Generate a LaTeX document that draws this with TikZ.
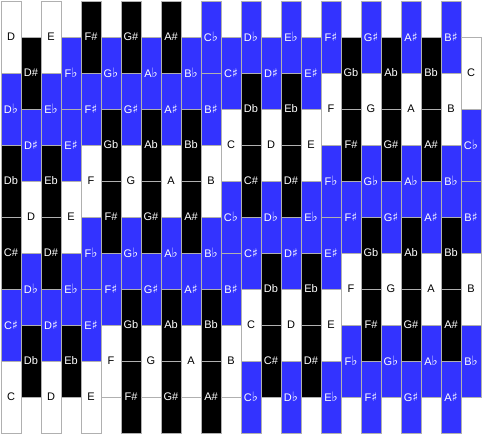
\documentclass[tikz,border=0pt]{standalone}
\usepackage{fontspec}
\setmainfont{Liberation Sans}
\newfontfamily\symfont{DejaVu Sans}
\usepackage{xcolor}
\definecolor{keyblue}{RGB}{51,51,255}
\definecolor{keyline}{RGB}{176,176,176}
\newcommand\flt{{\symfont\fontsize{13}{13}\selectfont ♭}}
\newcommand\shp{{\symfont\fontsize{12}{12}\selectfont ♯}}

\begin{document}
\begin{tikzpicture}[
x=1pt, y=-1pt,
every node/.style = {shape=rectangle, draw=keyline, line width=1pt, inner sep=0pt,
  minimum width=20pt, minimum height=72pt, anchor=north west,
  font=\fontsize{11}{12}\selectfont},
natkey/.style = {fill=white, text=black},
acckey/.style = {fill=black, text=white},
enhkey/.style = {fill=keyblue, text=white},
]
  \useasboundingbox[fill=white] (0,0) rectangle (482,434);
  % one column per entry, cells listed top to bottom
  \foreach \col/\cells in {
    0/{natkey/D,enhkey/D\flt,acckey/Db,acckey/C\#,enhkey/C\shp,natkey/C},
    1/{acckey/D\#,enhkey/D\shp,natkey/D,enhkey/D\flt,acckey/Db},
    2/{natkey/E,enhkey/E\flt,acckey/Eb,acckey/D\#,enhkey/D\shp,natkey/D},
    3/{enhkey/F\flt,enhkey/E\shp,natkey/E,enhkey/E\flt,acckey/Eb},
    4/{acckey/F\#,enhkey/F\shp,natkey/F,enhkey/F\flt,enhkey/E\shp,natkey/E},
    5/{enhkey/G\flt,acckey/Gb,acckey/F\#,enhkey/F\shp,natkey/F},
    6/{acckey/G\#,enhkey/G\shp,natkey/G,enhkey/G\flt,acckey/Gb,acckey/F\#},
    7/{enhkey/A\flt,acckey/Ab,acckey/G\#,enhkey/G\shp,natkey/G},
    8/{acckey/A\#,enhkey/A\shp,natkey/A,enhkey/A\flt,acckey/Ab,acckey/G\#},
    9/{enhkey/B\flt,acckey/Bb,acckey/A\#,enhkey/A\shp,natkey/A},
    10/{enhkey/C\flt,enhkey/B\shp,natkey/B,enhkey/B\flt,acckey/Bb,acckey/A\#},
    11/{enhkey/C\shp,natkey/C,enhkey/C\flt,enhkey/B\shp,natkey/B},
    12/{enhkey/D\flt,acckey/Db,acckey/C\#,enhkey/C\shp,natkey/C,enhkey/C\flt},
    13/{enhkey/D\shp,natkey/D,enhkey/D\flt,acckey/Db,acckey/C\#},
    14/{enhkey/E\flt,acckey/Eb,acckey/D\#,enhkey/D\shp,natkey/D,enhkey/D\flt},
    15/{enhkey/E\shp,natkey/E,enhkey/E\flt,acckey/Eb,acckey/D\#},
    16/{enhkey/F\shp,natkey/F,enhkey/F\flt,enhkey/E\shp,natkey/E,enhkey/E\flt},
    17/{acckey/Gb,acckey/F\#,enhkey/F\shp,natkey/F,enhkey/F\flt},
    18/{enhkey/G\shp,natkey/G,enhkey/G\flt,acckey/Gb,acckey/F\#,enhkey/F\shp},
    19/{acckey/Ab,acckey/G\#,enhkey/G\shp,natkey/G,enhkey/G\flt},
    20/{enhkey/A\shp,natkey/A,enhkey/A\flt,acckey/Ab,acckey/G\#,enhkey/G\shp},
    21/{acckey/Bb,acckey/A\#,enhkey/A\shp,natkey/A,enhkey/A\flt},
    22/{enhkey/B\shp,natkey/B,enhkey/B\flt,acckey/Bb,acckey/A\#,enhkey/A\shp},
    23/{natkey/C,enhkey/C\flt,enhkey/B\shp,natkey/B,enhkey/B\flt}}
  {
    \pgfmathsetmacro\ytop{mod(\col,2)*36}
    \foreach \kind/\name [count=\row from 0] in \cells
      \node[\kind] (k\col-\row) at ({20*\col+0.5},{\ytop+72*\row+0.5}) {\name};
  }
\end{tikzpicture}
\end{document}
